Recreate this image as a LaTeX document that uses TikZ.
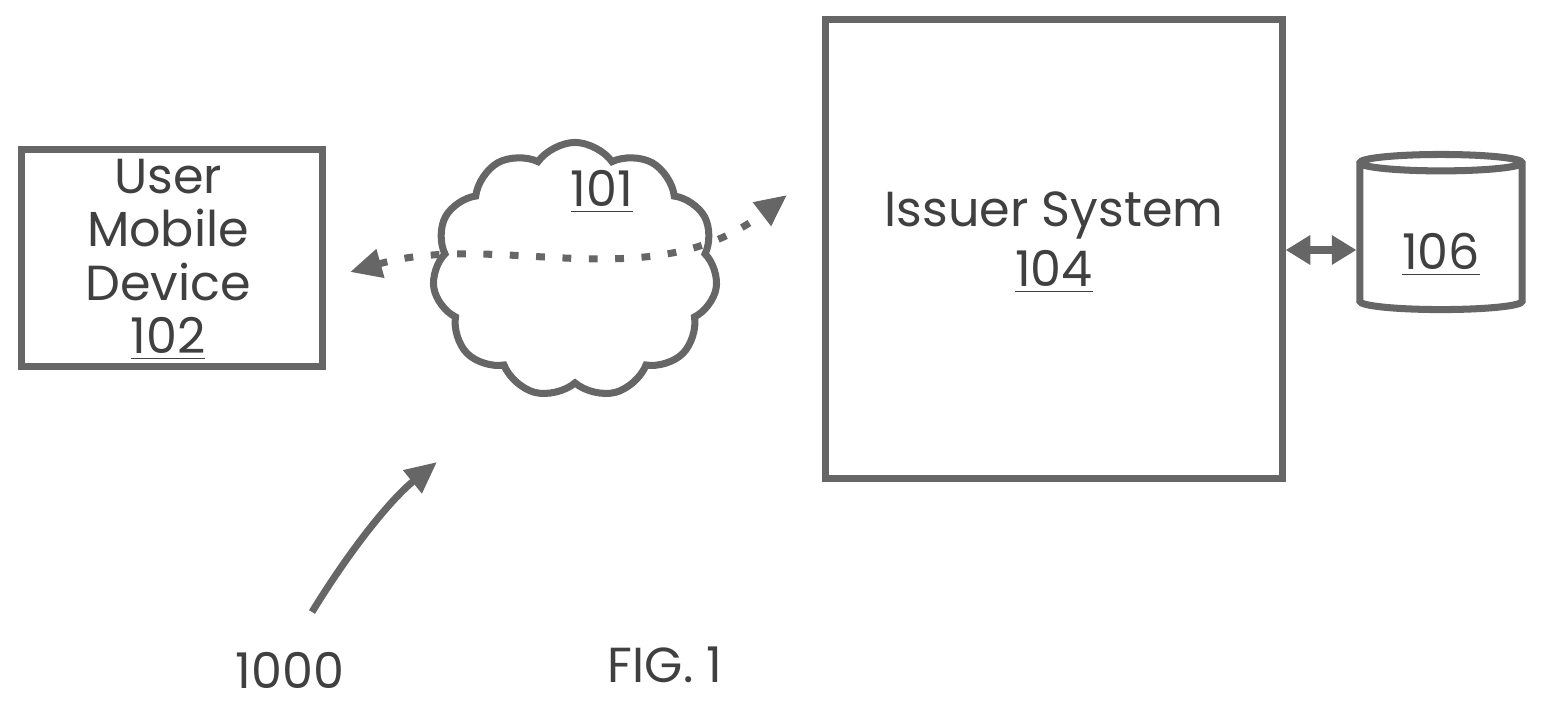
\documentclass[tikz,border=0pt]{standalone}
\usepackage{fontspec}
\setmainfont{Poppins}
\usetikzlibrary{shapes.symbols,shapes.geometric,arrows.meta}
\begin{document}
\begin{tikzpicture}[x=0.01cm,y=-0.01cm,
  ln/.style={draw=black!60,line width=2pt},
  lbl/.style={font=\fontsize{14}{15.2}\selectfont\color{black!75}},
  tip/.style={-{Triangle[length=9pt,width=8pt]}}]
\useasboundingbox (0,0) rectangle (1543,706);
\node[ln,minimum width=3cm,minimum height=2.17cm] (umd) at (172,258) {};
\node[lbl,align=center] (umdt) at (168,260) {User\\Mobile\\Device\\\underline{102}};
\node[ln,cloud,cloud puffs=11,cloud puff arc=110,aspect=1.0,minimum width=2.85cm,minimum height=2.55cm] (net) at (575,270) {};
\node[lbl] (nett) at (602,192) {\underline{101}};
\node[ln,minimum width=4.56cm,minimum height=4.58cm] (iss) at (1054,249) {};
\node[lbl] (isst) at (1054,215) {Issuer System};
\node[lbl] (issn) at (1054,272) {\underline{104}};
\node[ln,cylinder,shape border rotate=90,aspect=0.7,minimum width=1.62cm,minimum height=1.55cm] (db) at (1441,240) {};
\node[lbl] (dbt) at (1441,255) {\underline{106}};
\coordinate (a1) at (350,272);
\coordinate (a2) at (787,195);
\draw[ln,dash pattern=on 2.5pt off 5pt,{Triangle[length=9pt,width=8pt]}-{Triangle[length=9pt,width=8pt]}] (a1) .. controls (500,230) and (650,300) .. (a2);
\draw[ln,{Triangle[length=7pt,width=8pt]}-{Triangle[length=7pt,width=8pt]}] (iss.east |- 0,250) -- (db.west |- 0,250);
\coordinate (r1) at (312,612);
\coordinate (r2) at (437,462);
\draw[ln,tip] (r1) .. controls (350,550) and (390,500) .. (r2);
\node[lbl] (n1000) at (290,670) {1000};
\node[lbl] (fig) at (665,665) {FIG. 1};
\end{tikzpicture}
\end{document}
